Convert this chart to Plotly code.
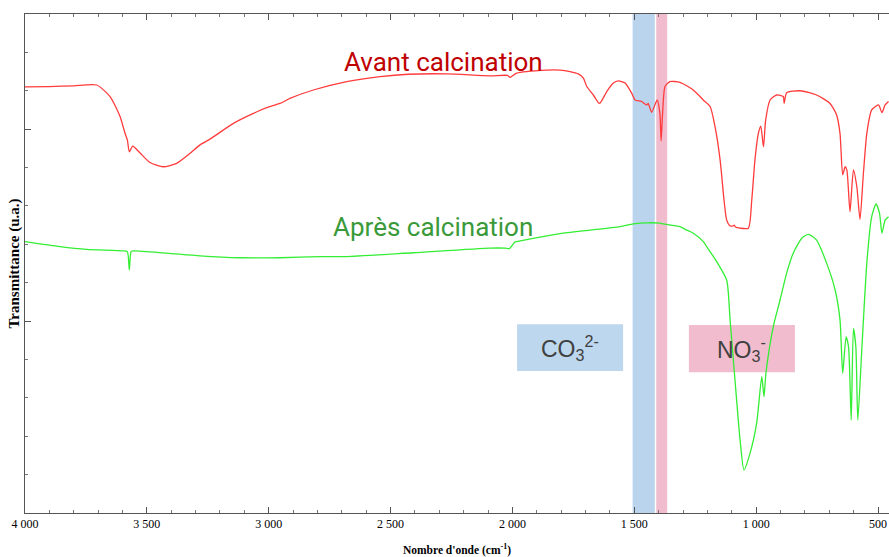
import plotly.graph_objects as go

# Avant calcination (red)
wn_avant = [4000, 3900, 3800, 3706, 3651, 3610, 3590, 3580, 3572, 3558, 3528, 3487, 3433, 3378,
            3323, 3282, 3241, 3145, 3063, 3008, 2954, 2913, 2817, 2680, 2543, 2427, 2270, 2092,
            2020, 2010, 1983, 1860, 1805, 1764, 1730, 1709, 1695, 1668, 1643, 1613, 1586, 1566,
            1538, 1511, 1497, 1470, 1449, 1443, 1429, 1406, 1395, 1390, 1384, 1374, 1354, 1313,
            1258, 1217, 1189, 1169, 1148, 1132, 1121, 1107, 1095, 1090, 1085, 1066, 1032, 1018,
            1005, 991, 981, 970, 961, 943, 916, 889, 885, 875, 820, 752, 697, 670, 656, 645, 635,
            628, 615, 601, 587, 574, 560, 546, 526, 498, 484, 471, 457]
t_avant = [111.0, 111.1, 111.3, 111.5, 108.5, 103.3, 99.0, 97.2, 94.1, 95.6, 93.8, 91.3, 90.2, 91.1,
           93.7, 95.9, 97.4, 101.5, 104.1, 105.6, 106.7, 108.0, 110.2, 112.4, 113.7, 114.3, 114.4, 113.9,
           114.0, 113.5, 114.6, 115.4, 115.4, 115.0, 114.4, 113.3, 111.1, 108.9, 106.7, 109.8, 112.0, 112.6,
           112.0, 109.4, 107.6, 107.2, 106.3, 106.7, 104.4, 107.6, 104.1, 96.9, 104.1, 111.1, 112.4, 112.2,
           110.2, 107.6, 105.9, 100.7, 92.0, 81.6, 76.3, 74.8, 74.8, 75.0, 74.5, 74.2, 74.2, 81.6,
           92.0, 98.9, 100.8, 95.4, 102.4, 107.6, 108.9, 108.5, 106.7, 109.5, 110.0, 108.9, 106.7, 103.7, 98.9, 88.1, 90.2,
           89.4, 78.5, 89.4, 85.0, 76.5, 88.5, 98.9, 105.0, 106.3, 104.3, 106.3, 107.2]

# Après calcination (green)
wn_apres = [4000, 3856, 3747, 3597, 3580, 3572, 3565, 3556, 3419, 3282, 3118, 2954, 2790, 2680,
            2407, 2092, 2030, 2012, 1990, 1983, 1791, 1559, 1504, 1449, 1395, 1381, 1313, 1285,
            1258, 1217, 1203, 1162, 1121, 1107, 1087, 1066, 1050, 1025, 998, 977, 968, 960, 930,
            902, 875, 848, 813, 786, 752, 711, 676, 656, 645, 631, 621, 610, 601, 591, 583, 566,
            546, 526, 508, 494, 484, 471, 457]
t_apres = [70.7, 69.4, 68.7, 68.3, 68.1, 63.3, 68.1, 68.3, 67.7, 67.0, 66.5, 66.5, 66.8, 66.8,
           67.8, 69.0, 69.0, 68.9, 70.6, 70.7, 72.9, 74.6, 75.3, 75.6, 75.5, 75.3, 74.6, 73.7,
           72.9, 70.7, 69.4, 65.5, 60.7, 50.3, 34.7, 19.0, 11.2, 15.6, 23.4, 35.5, 30.3, 36.4, 48.5,
           55.5, 62.5, 67.7, 71.6, 72.6, 71.1, 65.1, 58.1, 50.3, 36.4, 45.9, 43.3, 24.2, 48.1, 43.3, 24.2, 43.3,
           65.1, 77.2, 80.5, 78.1, 72.9, 76.3, 77.2]

x_ticks = [4000, 3500, 3000, 2500, 2000, 1500, 1000, 500]
x_tick_labels = ["4 000", "3 500", "3 000", "2 500", "2 000", "1 500", "1 000", "500"]

band_co3 = [1507, 1416]
band_no3 = [1410, 1365]
box_co3 = [1981, 1546, 37.0, 49.2]
box_no3 = [1276, 841, 36.7, 49.0]

fig = go.Figure()

fig.add_shape(type="rect", xref="x", yref="paper", x0=band_co3[0], x1=band_co3[1], y0=0, y1=1,
              fillcolor="#BAD4EE", line_width=0, layer="below")
fig.add_shape(type="rect", xref="x", yref="paper", x0=band_no3[0], x1=band_no3[1], y0=0, y1=1,
              fillcolor="#F0BCCE", line_width=0, layer="below")
fig.add_shape(type="rect", xref="x", yref="y", x0=box_co3[0], x1=box_co3[1], y0=box_co3[2], y1=box_co3[3],
              fillcolor="#BDD7EE", line_width=0, layer="below")
fig.add_shape(type="rect", xref="x", yref="y", x0=box_no3[0], x1=box_no3[1], y0=box_no3[2], y1=box_no3[3],
              fillcolor="#F0BCCE", line_width=0, layer="below")

fig.add_trace(go.Scatter(x=wn_avant, y=t_avant, mode="lines", line=dict(color="#FF3B3B", width=1.3, shape="spline", smoothing=0.6),
                         name="Avant calcination", showlegend=False))
fig.add_trace(go.Scatter(x=wn_apres, y=t_apres, mode="lines", line=dict(color="#33EE33", width=1.3, shape="spline", smoothing=0.6),
                         name="Après calcination", showlegend=False))

fig.add_annotation(x=2281, y=117.5, text="Avant calcination", showarrow=False,
                   font=dict(family="Roboto", size=26, color="#C00000"))
fig.add_annotation(x=2326, y=74.5, text="Après calcination", showarrow=False,
                   font=dict(family="Roboto", size=26, color="#3A9A3A"))
fig.add_annotation(x=(box_co3[0] + box_co3[1]) / 2, y=(box_co3[2] + box_co3[3]) / 2,
                   text="CO<sub>3</sub><sup>2-</sup>", showarrow=False,
                   font=dict(family="Liberation Sans", size=23, color="#404040"))
fig.add_annotation(x=(box_no3[0] + box_no3[1]) / 2, y=(box_no3[2] + box_no3[3]) / 2,
                   text="NO<sub>3</sub><sup>-</sup>", showarrow=False,
                   font=dict(family="Liberation Sans", size=23, color="#404040"))

fig.update_layout(
    width=889, height=557,
    margin=dict(l=25, r=0, t=14, b=44),
    paper_bgcolor="white", plot_bgcolor="white",
    showlegend=False,
    font=dict(family="Liberation Serif", color="black"),
)
fig.update_xaxes(
    range=[4000, 455], tickvals=x_ticks, ticktext=x_tick_labels, automargin=False,
    ticks="inside", ticklen=6, tickcolor="#555", tickwidth=1,
    minor=dict(dtick=100, ticks="inside", ticklen=3, tickcolor="#777"),
    showline=True, linecolor="#555", linewidth=1, mirror="ticks",
    showgrid=False, zeroline=False,
    tickfont=dict(family="Liberation Serif", size=12, color="black"),
    title=dict(text="<b>Nombre d'onde (cm<sup>-1</sup>)</b>", font=dict(family="Liberation Serif", size=11.5), standoff=15),
)
fig.update_yaxes(
    range=[0, 130], dtick=50, tick0=0, automargin=False,
    ticks="inside", ticklen=6, tickcolor="#555", showticklabels=False,
    minor=dict(dtick=10, ticks="inside", ticklen=3, tickcolor="#777"),
    showline=True, linecolor="#555", linewidth=1, mirror=False,
    showgrid=False, zeroline=False,
    title=dict(text="<b>Transmittance (u.a.)</b>", font=dict(family="Liberation Serif", size=15), standoff=0),
)

fig.write_html("out.html", config={"displayModeBar": False},
               post_script="document.body.style.margin='0';document.body.style.overflow='hidden';")
